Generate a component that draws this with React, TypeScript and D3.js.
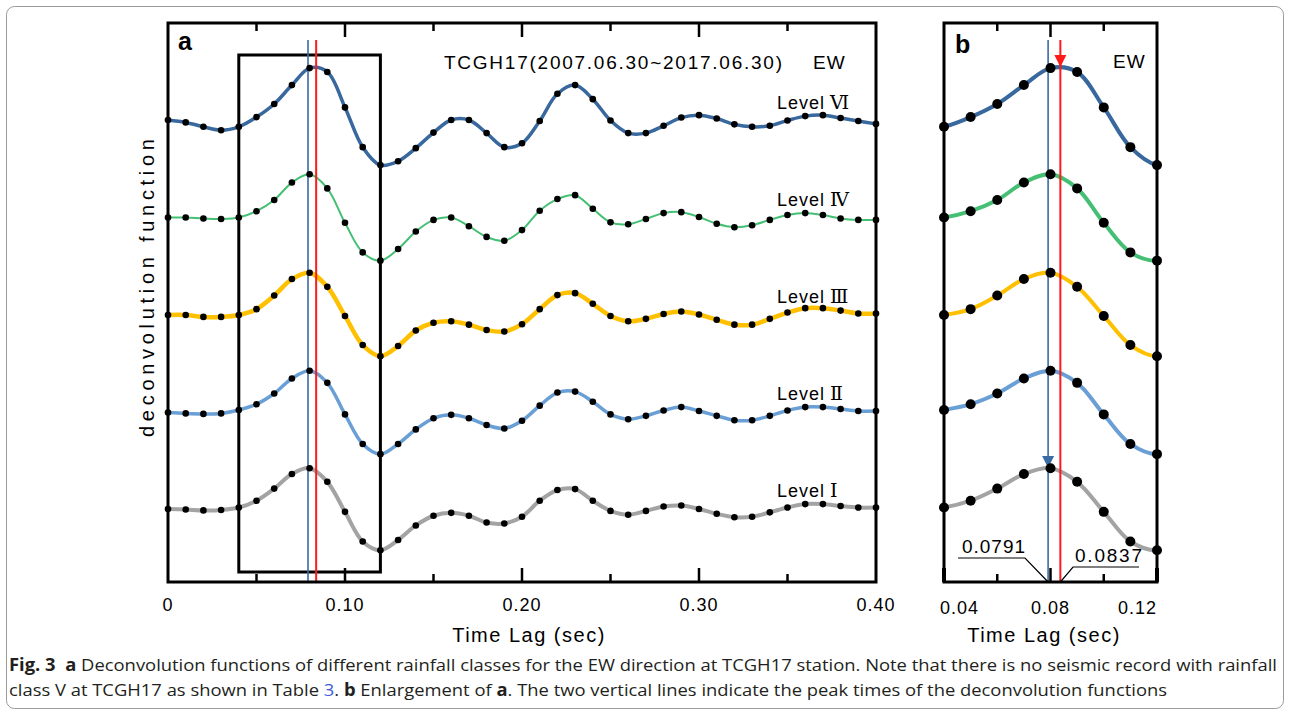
import React from 'react';
import * as d3 from 'd3';

// time lag samples (sec), one dot every 0.01 s
const timeLag = [
  0.00, 0.01, 0.02, 0.03, 0.04, 0.05, 0.06, 0.07, 0.08, 0.09,
  0.10, 0.11, 0.12, 0.13, 0.14, 0.15, 0.16, 0.17, 0.18, 0.19,
  0.20, 0.21, 0.22, 0.23, 0.24, 0.25, 0.26, 0.27, 0.28, 0.29,
  0.30, 0.31, 0.32, 0.33, 0.34, 0.35, 0.36, 0.37, 0.38, 0.39, 0.40,
];

// deconvolution function, per rainfall level (arbitrary units)
const levelVI = [
  0.00, -0.05, -0.14, -0.21, -0.14, 0.06, 0.33, 0.72, 1.07, 0.99,
  0.26, -0.56, -0.93, -0.85, -0.58, -0.26, 0.00, 0.00, -0.27, -0.56,
  -0.48, -0.02, 0.54, 0.72, 0.43, -0.01, -0.27, -0.27, -0.12, 0.05,
  0.10, 0.03, -0.09, -0.14, -0.12, -0.01, 0.08, 0.10, 0.04, -0.02, -0.08,
];
const levelIV = [
  -0.01, -0.01, -0.03, -0.04, -0.01, 0.12, 0.35, 0.71, 0.88, 0.59,
  -0.12, -0.73, -0.90, -0.66, -0.30, -0.06, -0.01, -0.19, -0.41, -0.49,
  -0.27, 0.13, 0.37, 0.45, 0.17, -0.11, -0.15, -0.04, 0.08, 0.10,
  0.00, -0.14, -0.21, -0.17, -0.06, 0.04, 0.08, 0.04, -0.03, -0.06, -0.06,
];
const levelIII = [
  -0.02, -0.02, -0.06, -0.06, -0.02, 0.10, 0.38, 0.72, 0.85, 0.56,
  -0.04, -0.64, -0.87, -0.66, -0.34, -0.18, -0.15, -0.22, -0.33, -0.36,
  -0.21, 0.10, 0.39, 0.43, 0.21, -0.04, -0.15, -0.10, 0.00, 0.05,
  -0.01, -0.12, -0.22, -0.22, -0.10, 0.03, 0.12, 0.12, 0.07, 0.01, 0.01,
];
const levelII = [
  -0.03, -0.05, -0.06, -0.05, 0.02, 0.14, 0.36, 0.67, 0.83, 0.58,
  -0.07, -0.68, -0.89, -0.68, -0.38, -0.15, -0.08, -0.15, -0.29, -0.36,
  -0.20, 0.11, 0.38, 0.40, 0.19, -0.07, -0.17, -0.10, 0.01, 0.08,
  0.00, -0.10, -0.19, -0.19, -0.10, 0.01, 0.08, 0.08, 0.04, 0.00, 0.00,
];
const levelI = [
  -0.02, -0.03, -0.05, -0.04, 0.01, 0.15, 0.40, 0.70, 0.82, 0.54,
  -0.08, -0.69, -0.87, -0.66, -0.36, -0.16, -0.10, -0.16, -0.30, -0.32,
  -0.18, 0.15, 0.37, 0.39, 0.15, -0.06, -0.14, -0.06, 0.03, 0.05,
  -0.02, -0.12, -0.19, -0.18, -0.09, 0.01, 0.08, 0.08, 0.04, 0.01, 0.01,
];

const levelNames = ['Level', 'Level', 'Level', 'Level', 'Level'];
const levelNumerals = ['Ⅵ', 'Ⅳ', 'Ⅲ', 'Ⅱ', 'Ⅰ'];
const levelSeries = [levelVI, levelIV, levelIII, levelII, levelI];

const ticksA = [0, 0.1, 0.2, 0.3, 0.4];
const tickLabelsA = ['0', '0.10', '0.20', '0.30', '0.40'];
const ticksB = [0.04, 0.08, 0.12];
const tickLabelsB = ['0.04', '0.08', '0.12'];

const zoomWindow = [0.04, 0.12];
const peakTimes = [0.0791, 0.0837];
const peakLabels = ['0.0791', '0.0837'];

const stationTitle = 'TCGH17(2007.06.30~2017.06.30)';
const direction = 'EW';

// styling
const colors = ['#38689d', '#45bf74', '#ffc000', '#6a9fd6', '#a3a3a3'];
const widthsA = [3.5, 2, 4.5, 3.5, 4];
const widthsB = [4, 4, 4, 4, 4];
const blueLine = '#3a6ca3';
const redLine = '#ff1a1a';
const STACK = 2; // vertical spacing between curves, data units
const FONT = "Arial, 'Liberation Sans', sans-serif";

const W = 1290;
const H = 714;
const top = 23;
const bottom = 582;

const App = () => {
  const xA = d3.scaleLinear().domain([0, 0.4]).range([168, 876]);
  const xB = d3.scaleLinear().domain(zoomWindow).range([944, 1157]);
  const y = d3.scaleLinear().domain([-1.526, 10]).range([bottom, top]);

  const offsetOf = (k: number) => (levelSeries.length - 1 - k) * STACK;

  const lineFor = (x: d3.ScaleLinear<number, number>, k: number) =>
    d3.line<number>()
      .x((_, i) => x(timeLag[i]))
      .y((v) => y(v + offsetOf(k)))
      .curve(d3.curveCatmullRom.alpha(0.5));

  const inB = (t: number) => t >= zoomWindow[0] - 1e-9 && t <= zoomWindow[1] + 1e-9;

  const tickMarks = (x: d3.ScaleLinear<number, number>, vals: number[], major: (v: number) => boolean) =>
    vals.map((v, i) => {
      const len = major(v) ? 14 : 8;
      return (
        <g key={i}>
          <line x1={x(v)} x2={x(v)} y1={top} y2={top + len} stroke="#000" strokeWidth={2.5} />
          <line x1={x(v)} x2={x(v)} y1={bottom} y2={bottom - len} stroke="#000" strokeWidth={2.5} />
        </g>
      );
    });

  const minorA = [0.05, 0.1, 0.15, 0.2, 0.25, 0.3, 0.35];
  const minorB = [0.06, 0.08, 0.1];

  const bPeak0 = xB(peakTimes[0]);
  const bPeak1 = xB(peakTimes[1]);

  return (
    <svg width={W} height={H} style={{ position: 'absolute', left: 0, top: 0, background: '#fff' }}>
      <defs>
        <clipPath id="clipB">
          <rect x={944} y={top} width={1157 - 944} height={bottom - top} />
        </clipPath>
      </defs>
      <rect x={6.5} y={6.5} width={1277} height={702} rx={8} fill="none" stroke="#9a9a9a" strokeWidth={1} />

      {/* ---------- panel a ---------- */}
      <g>
        {levelSeries.map((s, k) => (
          <path key={k} d={lineFor(xA, k)(s) || ''} fill="none" stroke={colors[k]} strokeWidth={widthsA[k]} />
        ))}
        <rect x={xA(zoomWindow[0])} y={55} width={xA(zoomWindow[1]) - xA(zoomWindow[0])} height={572 - 55}
          fill="none" stroke="#000" strokeWidth={3} />
        <line x1={xA(peakTimes[0])} x2={xA(peakTimes[0])} y1={40} y2={bottom} stroke={blueLine} strokeWidth={1.6} />
        <line x1={xA(peakTimes[1])} x2={xA(peakTimes[1])} y1={40} y2={bottom} stroke={redLine} strokeWidth={2} />
        {levelSeries.map((s, k) => (
          <g key={k}>
            {s.map((v, i) => (
              <circle key={i} cx={xA(timeLag[i])} cy={y(v + offsetOf(k))} r={3.3} fill="#000" />
            ))}
          </g>
        ))}
        <rect x={168} y={top} width={876 - 168} height={bottom - top} fill="none" stroke="#000" strokeWidth={3} />
        {tickMarks(xA, minorA, (v) => Math.abs(v * 10 - Math.round(v * 10)) < 1e-6)}
        {ticksA.map((t, i) => (
          <text key={i} x={xA(t)} y={611} textAnchor="middle" fontFamily={FONT} fontSize={18} letterSpacing={1}>
            {tickLabelsA[i]}
          </text>
        ))}
        <text x={529} y={642} textAnchor="middle" fontFamily={FONT} fontSize={20} letterSpacing={1.5}>Time Lag (sec)</text>
        <text transform="translate(154,288) rotate(-90)" textAnchor="middle" fontFamily={FONT} fontSize={20}
          textLength={298} lengthAdjust="spacing">deconvolution function</text>
        <text x={178} y={50} fontFamily={FONT} fontSize={25} fontWeight="bold">a</text>
        <text x={444} y={69} fontFamily={FONT} fontSize={19} textLength={338} lengthAdjust="spacing">{stationTitle}</text>
        <text x={813} y={69} fontFamily={FONT} fontSize={19} letterSpacing={1}>{direction}</text>
        {levelSeries.map((_, k) => (
          <text key={k} x={777} y={y(offsetOf(k)) - 11} fontFamily={FONT} fontSize={18} letterSpacing={1}>
            {levelNames[k]}
            <tspan dx={5} fontFamily="'DejaVu Serif', 'Liberation Serif', serif" fontSize={19} letterSpacing={0}>{levelNumerals[k]}</tspan>
          </text>
        ))}
      </g>

      {/* ---------- panel b ---------- */}
      <g>
        <g clipPath="url(#clipB)">
          {levelSeries.map((s, k) => (
            <path key={k} d={lineFor(xB, k)(s) || ''} fill="none" stroke={colors[k]} strokeWidth={widthsB[k]} />
          ))}
        </g>
        <line x1={bPeak0} x2={bPeak0} y1={40} y2={bottom} stroke={blueLine} strokeWidth={1.6} />
        <line x1={bPeak1} x2={bPeak1} y1={40} y2={bottom} stroke={redLine} strokeWidth={2} />
        <path d={`M${bPeak1 - 6},55 L${bPeak1 + 6},55 L${bPeak1},67 Z`} fill={redLine} />
        <path d={`M${bPeak0 - 6},456 L${bPeak0 + 6},456 L${bPeak0},468 Z`} fill={blueLine} />
        {levelSeries.map((s, k) => (
          <g key={k}>
            {s.map((v, i) => inB(timeLag[i]) ? (
              <circle key={i} cx={xB(timeLag[i])} cy={y(v + offsetOf(k))} r={5} fill="#000" />
            ) : null)}
          </g>
        ))}
        <rect x={944} y={top} width={1157 - 944} height={bottom - top} fill="none" stroke="#000" strokeWidth={3} />
        {tickMarks(xB, minorB, (v) => Math.abs(v - 0.08) < 1e-6)}
        <line x1={944} x2={944} y1={bottom} y2={bottom - 14} stroke="#000" strokeWidth={4} />
        <line x1={1157} x2={1157} y1={bottom} y2={bottom - 14} stroke="#000" strokeWidth={4} />
        {ticksB.map((t, i) => (
          <text key={i} x={i === 0 ? 940 : i === 2 ? 1157 : xB(t)} y={614}
            textAnchor={i === 0 ? 'start' : i === 2 ? 'end' : 'middle'} fontFamily={FONT} fontSize={18} letterSpacing={1}>
            {tickLabelsB[i]}
          </text>
        ))}
        <text x={1044} y={642} textAnchor="middle" fontFamily={FONT} fontSize={20} letterSpacing={1.5}>Time Lag (sec)</text>
        <text x={955} y={53} fontFamily={FONT} fontSize={25} fontWeight="bold">b</text>
        <text x={1113} y={68} fontFamily={FONT} fontSize={19} letterSpacing={1}>{direction}</text>

        <text x={962} y={553} fontFamily={FONT} fontSize={19} textLength={63} lengthAdjust="spacing">{peakLabels[0]}</text>
        <polyline points={`958,558 1025,558 ${bPeak0},${bottom}`} fill="none" stroke="#000" strokeWidth={1.2} />
        <text x={1075} y={562} fontFamily={FONT} fontSize={19} textLength={67} lengthAdjust="spacing">{peakLabels[1]}</text>
        <polyline points={`1139,567 1073,567 ${bPeak1},${bottom}`} fill="none" stroke="#000" strokeWidth={1.2} />
      </g>

      {/* ---------- caption ---------- */}
      <text x={9} y={671} fontFamily="'Liberation Sans Narrow', 'Open Sans', sans-serif" fontSize={17} fill="#231f20"
        textLength={1268} lengthAdjust="spacingAndGlyphs">
        <tspan fontWeight="bold">Fig. 3</tspan>
        <tspan>{'\u00a0\u00a0'}</tspan>
        <tspan fontWeight="bold">a</tspan>
        <tspan> Deconvolution functions of different rainfall classes for the EW direction at TCGH17 station. Note that there is no seismic record with rainfall</tspan>
      </text>
      <text x={9} y={696} fontFamily="'Liberation Sans Narrow', 'Open Sans', sans-serif" fontSize={17} fill="#231f20"
        textLength={1158} lengthAdjust="spacingAndGlyphs">
        <tspan>class V at TCGH17 as shown in Table </tspan>
        <tspan fill="#3b5bdb">3</tspan>
        <tspan>. </tspan>
        <tspan fontWeight="bold">b</tspan>
        <tspan> Enlargement of </tspan>
        <tspan fontWeight="bold">a</tspan>
        <tspan>. The two vertical lines indicate the peak times of the deconvolution functions</tspan>
      </text>
    </svg>
  );
};

export default App;
